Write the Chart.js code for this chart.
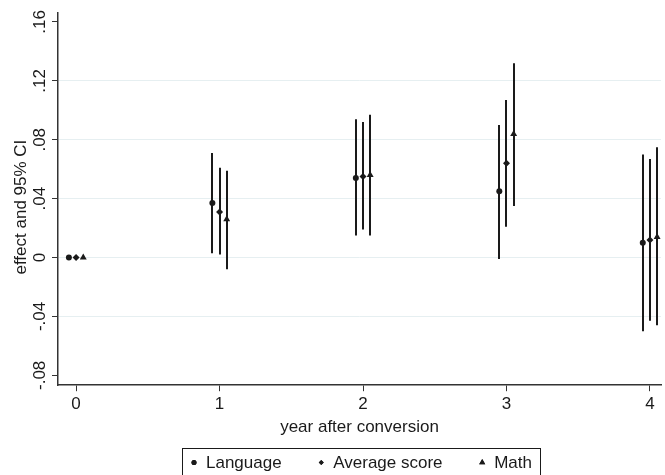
<!DOCTYPE html>
<html>
<head>
<meta charset="utf-8">
<script src="https://cdn.jsdelivr.net/npm/chart.js@4/dist/chart.umd.min.js"></script>
<style>
  html, body { margin: 0; padding: 0; background: #fff; }
  #wrap { width: 665px; height: 475px; }
</style>
</head>
<body>
<div id="wrap"><canvas id="myChart" width="665" height="475"></canvas></div>
<script>
// years after conversion, points are shifted a little so the CIs don't overlap
var years = [0, 1, 2, 3, 4];
var seriesNames = ['Language', 'Average score', 'Math'];
var shift = [-0.05, 0, 0.05];

var langEst = [0, 0.037, 0.054, 0.045, 0.010];
var langLo  = [null, 0.003, 0.015, -0.001, -0.050];
var langHi  = [null, 0.071, 0.094, 0.090, 0.070];

var avgEst = [0, 0.031, 0.055, 0.064, 0.012];
var avgLo  = [null, 0.002, 0.019, 0.021, -0.043];
var avgHi  = [null, 0.061, 0.092, 0.107, 0.067];

var mathEst = [0, 0.026, 0.056, 0.084, 0.014];
var mathLo  = [null, -0.008, 0.015, 0.035, -0.046];
var mathHi  = [null, 0.059, 0.097, 0.132, 0.075];

var yTicks = [-0.08, -0.04, 0, 0.04, 0.08, 0.12, 0.16];
var yTitle = 'effect and 95% CI';

var FONT = '"Liberation Sans", Arial, sans-serif';
var FSIZE = 17;
var INK = '#1a1a1a';

function mkData(est, lo, hi, k) {
    var out = [];
    for (var i = 0; i < years.length; i++) {
        out.push({ x: years[i] + shift[k], y: est[i], lo: lo[i], hi: hi[i] });
    }
    return out;
}

function fmt(v) {
    if (Math.abs(v) < 1e-9) return '0';
    return v.toFixed(2).replace('0.', '.');
}

// draws the CI spikes from the lo/hi values of each point
var ciBars = {
    id: 'ciBars',
    beforeDatasetsDraw: function (chart) {
        var ctx = chart.ctx, xs = chart.scales.x, ys = chart.scales.y;
        ctx.save();
        ctx.strokeStyle = INK;
        ctx.lineWidth = 2;
        chart.data.datasets.forEach(function (ds) {
            ds.data.forEach(function (p) {
                if (p.lo == null) return;
                var px = Math.round(xs.getPixelForValue(p.x));
                ctx.beginPath();
                ctx.moveTo(px, ys.getPixelForValue(p.lo));
                ctx.lineTo(px, ys.getPixelForValue(p.hi));
                ctx.stroke();
            });
        });
        ctx.restore();
    }
};

// stata style y axis: labels turned 90 degrees, title further left
var yLabels = {
    id: 'yLabels',
    afterDraw: function (chart) {
        var ctx = chart.ctx, ys = chart.scales.y, area = chart.chartArea;
        ctx.save();
        ctx.fillStyle = INK;
        ctx.font = FSIZE + 'px ' + FONT;
        ctx.textAlign = 'center';
        ctx.textBaseline = 'alphabetic';
        yTicks.forEach(function (v) {
            ctx.save();
            ctx.translate(area.left - 13, ys.getPixelForValue(v));
            ctx.rotate(-Math.PI / 2);
            ctx.fillText(fmt(v), 0, 0);
            ctx.restore();
        });
        ctx.translate(area.left - 32, (area.top + area.bottom) / 2 + 8);
        ctx.rotate(-Math.PI / 2);
        ctx.fillText(yTitle, 0, 0);
        ctx.restore();
    }
};

// boxed legend under the x title
var boxLegend = {
    id: 'boxLegend',
    afterDraw: function (chart) {
        var ctx = chart.ctx;
        var top = 448, h = 27, left = 182, right = 540;
        var cy = top + h / 2 + 1;
        ctx.save();
        ctx.font = FSIZE + 'px ' + FONT;
        ctx.textBaseline = 'middle';
        ctx.textAlign = 'left';
        var widths = chart.data.datasets.map(function (ds) { return ctx.measureText(ds.label).width; });
        var gap = 8, sym = 8;
        var inner = widths.reduce(function (a, b) { return a + b; }, 0) + 3 * (sym + gap);
        var spacing = (right - left - 16 - inner) / 2;
        var x = left + 8;
        ctx.strokeStyle = INK;
        ctx.lineWidth = 1;
        ctx.strokeRect(left + 0.5, top + 0.5, right - left, h);
        chart.data.datasets.forEach(function (ds, i) {
            var r = ds.pointStyle === 'triangle' ? 3.5 : 2.5;
            Chart.helpers.drawPoint(ctx, { pointStyle: ds.pointStyle, radius: r, rotation: 0, borderWidth: 0 }, x + sym / 2, cy);
            ctx.fillStyle = INK;
            ctx.fill();
            ctx.fillText(ds.label, x + sym + gap, cy + 1);
            x += sym + gap + widths[i] + spacing;
        });
        ctx.restore();
    }
};

const ctx = document.getElementById('myChart');
const myChart = new Chart(ctx, {
    type: 'scatter',
    data: {
        datasets: [
            { label: seriesNames[0], data: mkData(langEst, langLo, langHi, 0), pointStyle: 'circle', pointRadius: 3, backgroundColor: INK, borderColor: INK, borderWidth: 0 },
            { label: seriesNames[1], data: mkData(avgEst, avgLo, avgHi, 1), pointStyle: 'rectRot', pointRadius: 3.5, backgroundColor: INK, borderColor: INK, borderWidth: 0 },
            { label: seriesNames[2], data: mkData(mathEst, mathLo, mathHi, 2), pointStyle: 'triangle', pointRadius: 4, backgroundColor: INK, borderColor: INK, borderWidth: 0 }
        ]
    },
    options: {
        responsive: false,
        animation: false,
        layout: { padding: { top: 13, right: 0, bottom: 37, left: 52 } },
        plugins: {
            tooltip: { enabled: false },
            legend: { display: false }
        },
        scales: {
            x: {
                type: 'linear',
                min: -0.126,
                max: 4.077,
                afterBuildTicks: function (s) { s.ticks = years.map(function (v) { return { value: v }; }); },
                ticks: { color: INK, font: { family: FONT, size: FSIZE }, padding: 3, maxRotation: 0, callback: function (v) { return String(v); } },
                grid: { drawOnChartArea: false, drawTicks: true, tickLength: 6, tickColor: '#333' },
                border: { color: '#333', width: 1.5 },
                title: { display: true, text: 'year after conversion', color: INK, font: { family: FONT, size: FSIZE }, padding: { top: 0, bottom: 0 } }
            },
            y: {
                min: -0.0867,
                max: 0.1661,
                afterBuildTicks: function (s) { s.ticks = yTicks.map(function (v) { return { value: v }; }); },
                ticks: { display: false },
                grid: {
                    drawTicks: true, tickLength: 6, tickColor: '#333', lineWidth: 1,
                    color: function (c) {
                        var v = c.tick ? c.tick.value : 0;
                        return (v > -0.06 && v < 0.14) ? '#e6eff1' : 'rgba(0,0,0,0)';
                    }
                },
                border: { color: '#333', width: 1.5 },
                title: { display: false }
            }
        }
    },
    plugins: [ciBars, yLabels, boxLegend]
});
</script>
</body>
</html>
